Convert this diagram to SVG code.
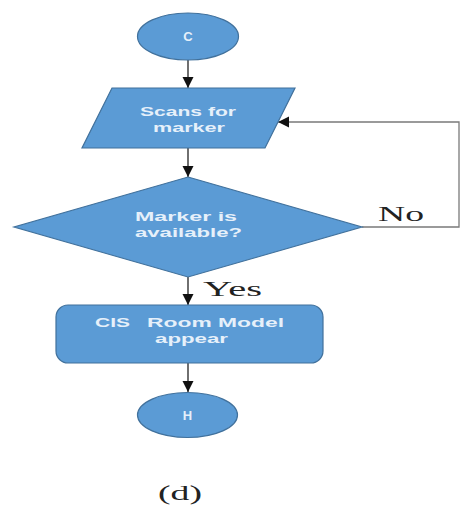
<svg xmlns="http://www.w3.org/2000/svg" width="461" height="506" viewBox="0 0 461 506">
  <style>
    .shape { fill: #5B9BD5; stroke: #41719C; stroke-width: 1.2; }
    .label { font-family: "Liberation Sans", Arial, sans-serif; font-weight: bold; font-size: 13px; fill: #E6F0FA; }
    .mid { text-anchor: middle; }
    .serif { font-family: "Liberation Serif", "Times New Roman", serif; font-size: 20px; fill: #222; }
    .flow { stroke: #222; stroke-width: 1.3; fill: none; }
    .loop { stroke: #7a7a7a; stroke-width: 1.3; fill: none; }
  </style>
  <defs>
    <marker id="arrowWide" viewBox="0 0 10 10" refX="10" refY="5" markerWidth="11" markerHeight="13" markerUnits="userSpaceOnUse" orient="auto">
      <path d="M0,0 L10,5 L0,10 z" fill="#111"/>
    </marker>
  </defs>

  <rect width="461" height="506" fill="#ffffff"/>

  <!-- connectors -->
  <g id="connectors">
    <line class="flow" x1="188" y1="60" x2="188" y2="88" marker-end="url(#arrowWide)"/>
    <line class="flow" x1="188" y1="148" x2="188" y2="177" marker-end="url(#arrowWide)"/>
    <line class="flow" x1="188" y1="277" x2="188" y2="305" marker-end="url(#arrowWide)"/>
    <line class="flow" x1="188" y1="363" x2="188" y2="392" marker-end="url(#arrowWide)"/>
    <!-- "No" branch loops back to the scan step -->
    <polyline class="loop" points="362,227 459,227 459,122 278,122" marker-end="url(#arrowWide)"/>
    <text class="serif" x="378" y="221" textLength="46" lengthAdjust="spacingAndGlyphs">No</text>
    <text class="serif" x="203" y="296" textLength="59" lengthAdjust="spacingAndGlyphs">Yes</text>
  </g>

  <!-- start connector C -->
  <g id="node-c">
    <ellipse class="shape" cx="188" cy="36.5" rx="50.5" ry="23.5"/>
    <text class="label mid" x="188" y="41" font-size="13">C</text>
  </g>

  <!-- scan step -->
  <g id="node-scan">
    <polygon class="shape" points="112,88 295,88 265,148 82,148"/>
    <text class="label" x="140" y="116" textLength="96" lengthAdjust="spacingAndGlyphs">Scans for</text>
    <text class="label" x="153" y="132" textLength="72" lengthAdjust="spacingAndGlyphs">marker</text>
  </g>

  <!-- decision -->
  <g id="node-decision">
    <polygon class="shape" points="188,177 362,227 188,277 14,227"/>
    <text class="label" x="135" y="221" textLength="102" lengthAdjust="spacingAndGlyphs">Marker is</text>
    <text class="label" x="135" y="237" textLength="107" lengthAdjust="spacingAndGlyphs">available?</text>
  </g>

  <!-- result step -->
  <g id="node-model">
    <rect class="shape" x="56" y="305" width="267" height="58" rx="12" ry="12"/>
    <text class="label" x="95" y="327" textLength="35" lengthAdjust="spacingAndGlyphs">CIS</text>
    <text class="label" x="147" y="327" textLength="137" lengthAdjust="spacingAndGlyphs">Room Model</text>
    <text class="label" x="155" y="343" textLength="73" lengthAdjust="spacingAndGlyphs">appear</text>
  </g>

  <!-- end connector H -->
  <g id="node-h">
    <ellipse class="shape" cx="187.5" cy="415" rx="50" ry="22.5"/>
    <text class="label mid" x="187.5" y="419.5" font-size="13">H</text>
  </g>

  <!-- caption -->
  <text class="serif" x="158" y="500" font-size="17" textLength="44" lengthAdjust="spacingAndGlyphs">(d)</text>
</svg>
